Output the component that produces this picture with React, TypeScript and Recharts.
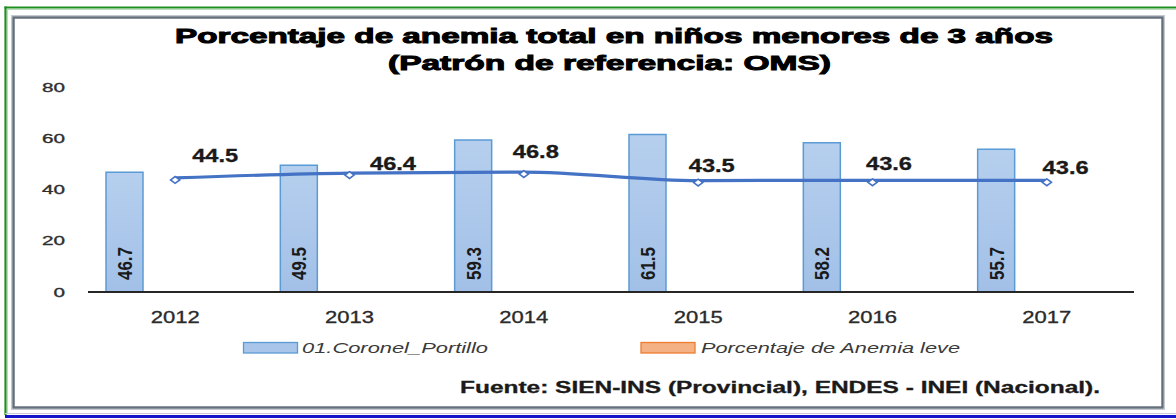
import React from 'react';
import { ComposedChart, Bar, Line, XAxis, YAxis, Legend, LabelList } from 'recharts';

// ---------- data ----------
const years = ['2012', '2013', '2014', '2015', '2016', '2017'];
const coronelPortillo = [46.7, 49.5, 59.3, 61.5, 58.2, 55.7];
const anemiaLeve: (number | null)[] = [null, null, null, null, null, null];
const nacional = [44.5, 46.4, 46.8, 43.5, 43.6, 43.6];
const yTicks = [0, 20, 40, 60, 80];

const nameBar = '01.Coronel_Portillo';
const nameLeve = 'Porcentaje de Anemia leve';
const nameLine = 'Nacional';
const titleLine1 = 'Porcentaje de anemia total en niños menores de 3 años';
const titleLine2 = '(Patrón de referencia: OMS)';
const sourceText = 'Fuente: SIEN-INS (Provincial), ENDES - INEI (Nacional).';

const data = years.map((year, i) => ({
  year,
  portillo: coronelPortillo[i],
  leve: anemiaLeve[i],
  nacional: nacional[i],
}));

// ---------- styling / layout ----------
const W = 1176;
const H = 419;
const FONT = '"Liberation Sans", Arial, Helvetica, sans-serif';
const lineLabelNudge: [number, number][] = [
  [40, -22],
  [43.5, -10],
  [12, -20.5],
  [13.6, -14.7],
  [16.5, -17],
  [18.8, -12.8],
];
const seriesStyle: Record<string, { fill: string; stroke: string }> = {
  portillo: { fill: '#a9c6ea', stroke: '#5b9bd5' },
  leve: { fill: '#f4b183', stroke: '#ed7d31' },
};
const legendLayout = [
  { swatchX: 243.5, textX: 302, textW: 186 },
  { swatchX: 641, textX: 701, textW: 259 },
];

const YTick = (props: any) => {
  const { x, y, payload } = props;
  const s = String(payload.value);
  return (
    <text
      x={x}
      y={y + 4.7}
      textAnchor="end"
      fontFamily={FONT}
      fontSize={13}
      fill="#2e2e2e"
      stroke="#2e2e2e"
      strokeWidth={0.35}
      textLength={11.5 * s.length}
      lengthAdjust="spacingAndGlyphs"
    >
      {s}
    </text>
  );
};

const XTick = (props: any) => {
  const { x, y, payload } = props;
  const s = String(payload.value);
  return (
    <text
      x={x}
      y={y + 5.8}
      textAnchor="middle"
      fontFamily={FONT}
      fontSize={16}
      fill="#2a2a2a"
      stroke="#2a2a2a"
      strokeWidth={0.3}
      textLength={49}
      lengthAdjust="spacingAndGlyphs"
    >
      {s}
    </text>
  );
};

const BarValueLabel = (props: any) => {
  const vb = props.viewBox || {};
  const x = props.x ?? vb.x;
  const y = props.y ?? vb.y;
  const w = props.width ?? vb.width;
  const h = props.height ?? vb.height;
  if (props.value == null || x == null) return null;
  const cx = Number(x) + Number(w) / 2;
  const base = Number(y) + Number(h);
  return (
    <text
      transform={`translate(${cx},${base - 12}) scale(1.4,1) rotate(-90)`}
      x={0}
      y={0}
      textAnchor="start"
      dominantBaseline="central"
      fontFamily={FONT}
      fontWeight="bold"
      fontSize={15}
      fill="#1a1a1a"
      textLength={33}
      lengthAdjust="spacingAndGlyphs"
    >
      {Number(props.value).toFixed(1)}
    </text>
  );
};

const LineValueLabel = (props: any) => {
  const vb = props.viewBox || {};
  const x = props.x ?? vb.x;
  const y = props.y ?? vb.y;
  if (props.value == null || x == null) return null;
  const idx = props.index ?? 0;
  const [dx, dy] = lineLabelNudge[idx] || [20, -16];
  return (
    <text
      x={Number(x) + dx}
      y={Number(y) + dy + 6.5}
      textAnchor="middle"
      fontFamily={FONT}
      fontWeight="bold"
      fontSize={18}
      fill="#1a1a1a"
      stroke="#1a1a1a"
      strokeWidth={0.3}
      textLength={46}
      lengthAdjust="spacingAndGlyphs"
    >
      {Number(props.value).toFixed(1)}
    </text>
  );
};

const Diamond = (props: any) => {
  const { cx, cy, index } = props;
  if (cx == null || cy == null) return <g key={`d-${index}`} />;
  const c = cy + 2;
  return (
    <path
      key={`d-${index}`}
      d={`M${cx},${c - 3.4}L${cx + 4.6},${c}L${cx},${c + 3.4}L${cx - 4.6},${c}Z`}
      fill="#ffffff"
      stroke="#4472c4"
      strokeWidth={1.6}
    />
  );
};

const renderLegend = (props: any) => {
  const payload = (props.payload || []).filter((p: any) => p.type !== 'none');
  return (
    <svg width={W} height={30} style={{ display: 'block' }}>
      {payload.map((p: any, i: number) => {
        const L = legendLayout[i];
        const st = seriesStyle[String(p.dataKey)] || { fill: p.color, stroke: p.color };
        if (!L) return null;
        return (
          <g key={`leg-${i}`}>
            <rect x={L.swatchX} y={7.5} width={54} height={10.5} fill={st.fill} stroke={st.stroke} strokeWidth={1.3} />
            <text
              x={L.textX}
              y={18}
              fontFamily={FONT}
              fontStyle="italic"
              fontSize={14.5}
              fill="#3a3a3a"
              textLength={L.textW}
              lengthAdjust="spacingAndGlyphs"
            >
              {p.value}
            </text>
          </g>
        );
      })}
    </svg>
  );
};

export default function App() {
  return (
    <div style={{ position: 'absolute', left: 0, top: 0, width: W, height: H, background: '#fff', overflow: 'hidden' }}>
      <svg width={W} height={H} style={{ position: 'absolute', left: 0, top: 0 }}>
        <rect x={0} y={0} width={W} height={H} fill="#ffffff" />
        {/* outer green / blue lines */}
        <line x1={4.5} y1={7.5} x2={W} y2={7.5} stroke="#1f8f1f" strokeWidth={2.2} />
        <line x1={5.5} y1={6.5} x2={5.5} y2={415} stroke="#1f8f1f" strokeWidth={2.2} />
        <line x1={7} y1={9.5} x2={W} y2={9.5} stroke="#b9dcb9" strokeWidth={1} />
        <line x1={7.5} y1={9} x2={7.5} y2={414} stroke="#b9dcb9" strokeWidth={1} />
        <line x1={5} y1={413.5} x2={W} y2={413.5} stroke="#c9ccd6" strokeWidth={1} />
        <line x1={5} y1={416.5} x2={W} y2={416.5} stroke="#1414c8" strokeWidth={3} />
        {/* chart frame */}
        <rect x={11.5} y={15.5} width={1153} height={394} fill="none" stroke="#c5cad0" strokeWidth={1} />
        <rect x={13.5} y={17.5} width={1149} height={390} fill="none" stroke="#66707c" strokeWidth={2.5} />
        {/* title */}
        <text x={175} y={43.3} fontFamily={FONT} fontWeight="bold" fontSize={21} fill="#000" stroke="#000" strokeWidth={1} textLength={878} lengthAdjust="spacingAndGlyphs">
          {titleLine1}
        </text>
        <text x={388} y={69.5} fontFamily={FONT} fontWeight="bold" fontSize={21} fill="#000" stroke="#000" strokeWidth={1} textLength={443} lengthAdjust="spacingAndGlyphs">
          {titleLine2}
        </text>
        {/* source */}
        <text x={460} y={393.3} fontFamily={FONT} fontWeight="bold" fontSize={16} fill="#1a1a1a" stroke="#1a1a1a" strokeWidth={0.3} textLength={640} lengthAdjust="spacingAndGlyphs">
          {sourceText}
        </text>
      </svg>
      <div style={{ position: 'absolute', left: 0, top: 0 }}>
        <ComposedChart
          width={W}
          height={H}
          data={data}
          margin={{ top: 87, right: 42, bottom: 102, left: 0 }}
          barGap={65}
        >
          <defs>
            <linearGradient id="barFill" x1="0" y1="0" x2="0" y2="1">
              <stop offset="0%" stopColor="#b6cfee" />
              <stop offset="100%" stopColor="#a2c0e7" />
            </linearGradient>
          </defs>
          <XAxis
            dataKey="year"
            height={25}
            axisLine={{ stroke: '#262626', strokeWidth: 2 }}
            tickLine={false}
            tickSize={0}
            tickMargin={25.5}
            tick={XTick}
            interval={0}
          />
          <YAxis
            width={88}
            domain={[0, 80]}
            ticks={yTicks}
            axisLine={false}
            tickLine={false}
            tickSize={0}
            tickMargin={23}
            tick={YTick}
            interval={0}
          />
          <Legend
            content={renderLegend}
            layout="horizontal"
            verticalAlign="middle"
            align="center"
            wrapperStyle={{ left: 0, top: 335, width: W, height: 30 }}
          />
          <Bar
            dataKey="portillo"
            name={nameBar}
            fill="url(#barFill)"
            stroke="#5b9bd5"
            strokeWidth={1.5}
            barSize={37}
            isAnimationActive={false}
          >
            <LabelList dataKey="portillo" content={BarValueLabel} />
          </Bar>
          <Bar
            dataKey="leve"
            name={nameLeve}
            fill={seriesStyle.leve.fill}
            stroke={seriesStyle.leve.stroke}
            barSize={37}
            isAnimationActive={false}
          />
          <Line
            dataKey="nacional"
            name={nameLine}
            type="monotone"
            stroke="#4472c4"
            strokeWidth={3.2}
            dot={Diamond}
            activeDot={false}
            legendType="none"
            isAnimationActive={false}
          >
            <LabelList dataKey="nacional" content={LineValueLabel} />
          </Line>
        </ComposedChart>
      </div>
    </div>
  );
}
